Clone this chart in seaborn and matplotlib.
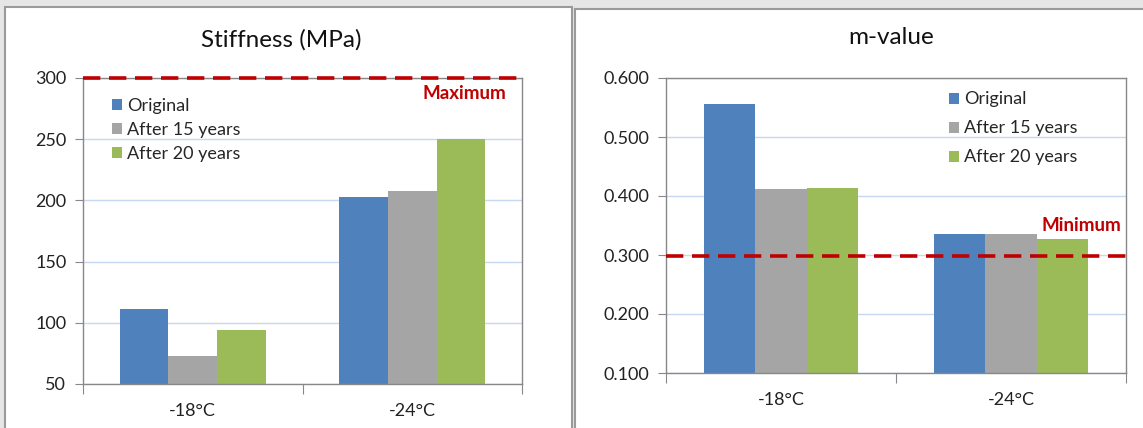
import numpy as np
import pandas as pd
import seaborn as sns
import matplotlib.pyplot as plt
from matplotlib.patches import Rectangle
from matplotlib.ticker import FixedLocator, FormatStrFormatter

# chart data
temps = ["-18°C", "-24°C"]
series = ["Original", "After 15 years", "After 20 years"]
stiffness = {
    "Original": [111, 203],
    "After 15 years": [73, 208],
    "After 20 years": [94, 250],
}
m_value = {
    "Original": [0.556, 0.336],
    "After 15 years": [0.412, 0.336],
    "After 20 years": [0.414, 0.327],
}
stiff_max = 300
m_min = 0.298

colors = ["#4F81BD", "#A5A5A5", "#9BBB59"]
red = "#C00000"


def to_long(values):
    rows = []
    for s in series:
        for t, v in zip(temps, values[s]):
            rows.append({"Temperature": t, "Series": s, "Value": v})
    return pd.DataFrame(rows)


sns.set_style("white")
plt.rcParams["font.family"] = ["Lato", "DejaVu Sans"]

fig = plt.figure(figsize=(11.43, 4.28), dpi=100, facecolor="#E6E6E6")
W, H = 1143, 428

# white panels like the Excel chart areas
for x0, x1, y0 in [(5, 572, 7), (575, 1160, 9)]:
    fig.add_artist(Rectangle((x0 / W, -0.05), (x1 - x0) / W, 1.05 - y0 / H,
                             transform=fig.transFigure, facecolor="white",
                             edgecolor="#9A9A9A", linewidth=1.5, zorder=0))

ax1 = fig.add_axes([83 / W, 1 - 384 / H, (522 - 83) / W, (384 - 78) / H])
ax2 = fig.add_axes([666 / W, 1 - 373 / H, (1126 - 666) / W, (373 - 78) / H])


def style_axis(ax):
    ax.set_facecolor("white")
    for sp in ax.spines.values():
        sp.set_visible(True)
        sp.set_color("#888888")
        sp.set_linewidth(1.0)
    ax.grid(axis="y", color="#C6D9F1", linewidth=1.0)
    ax.set_axisbelow(True)
    ax.set_xlim(-0.5, 1.5)
    ax.xaxis.set_major_locator(FixedLocator([-0.5, 0.5, 1.5]))
    ax.xaxis.set_minor_locator(FixedLocator([0, 1]))
    ax.set_xticklabels([], minor=False)
    ax.set_xticklabels(temps, minor=True)
    ax.tick_params(axis="x", which="major", direction="out", length=7,
                   color="#888888", bottom=True)
    ax.tick_params(axis="x", which="minor", length=0, pad=14,
                   labelsize=13, labelcolor="#222222")
    ax.tick_params(axis="y", direction="out", length=6, color="#888888",
                   left=True, labelsize=13, labelcolor="#222222", pad=6)
    ax.set_xlabel("")
    ax.set_ylabel("")


bar_kw = dict(x="Temperature", y="Value", hue="Series", order=temps,
              hue_order=series, palette=colors, width=0.667, saturation=1,
              linewidth=0)
leg_kw = dict(frameon=False, title=None, fontsize=13, borderpad=0,
              handlelength=0.55, handleheight=0.55, handletextpad=0.3)

# Stiffness panel
df1 = to_long(stiffness)
sns.barplot(data=df1, ax=ax1, **bar_kw)
ax1.set_ylim(50, 300)
ax1.set_yticks(np.arange(50, 301, 50))
style_axis(ax1)
ax1.axhline(stiff_max, color=red, linewidth=2.6, dashes=(4.8, 2.4),
            zorder=5, clip_on=False)
ax1.text(0.965, 0.95, "Maximum", transform=ax1.transAxes, ha="right",
         va="center", color=red, fontsize=13.5, fontweight="bold")
sns.move_legend(ax1, "upper left", bbox_to_anchor=(0.045, 0.965),
                labelspacing=0.45, **leg_kw)
fig.text(281 / W, 1 - 40 / H, "Stiffness (MPa)", ha="center", va="center",
         fontsize=17.5, color="#111111")

# m-value panel
df2 = to_long(m_value)
sns.barplot(data=df2, ax=ax2, **bar_kw)
ax2.set_ylim(0.1, 0.6)
ax2.set_yticks(np.arange(0.1, 0.601, 0.1))
ax2.yaxis.set_major_formatter(FormatStrFormatter("%.3f"))
style_axis(ax2)
ax2.axhline(m_min, color=red, linewidth=2.6, dashes=(4.8, 2.4), zorder=5)
ax2.text(0.99, 0.5, "Minimum", transform=ax2.transAxes, ha="right",
         va="center", color=red, fontsize=13.5, fontweight="bold")
sns.move_legend(ax2, "upper left", bbox_to_anchor=(0.595, 0.985),
                labelspacing=0.72, **leg_kw)
fig.text(891 / W, 1 - 38 / H, "m-value", ha="center", va="center",
         fontsize=17.5, color="#111111")

fig.savefig("out.png", dpi=100, facecolor=fig.get_facecolor())
